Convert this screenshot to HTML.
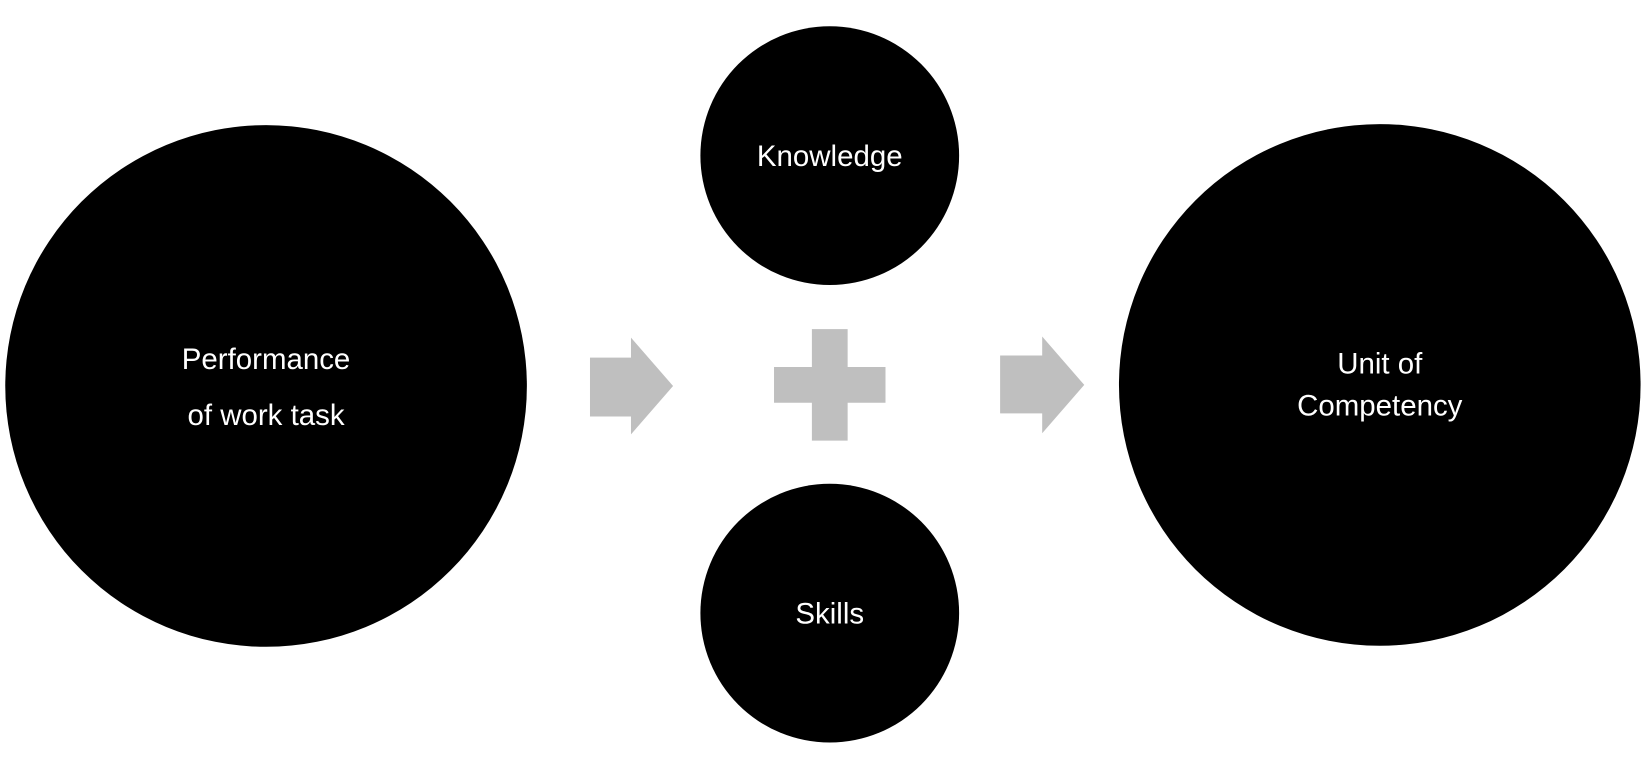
<!DOCTYPE html>
<html><head><style>html,body{margin:0;padding:0;background:#fff;}svg{display:block}</style></head>
<body>
<svg width="1649" height="783" viewBox="0 0 1568 744.5" preserveAspectRatio="none" xmlns="http://www.w3.org/2000/svg">
<rect width="1568" height="744.5" fill="#fff"/>
<circle cx="253" cy="367" r="248" fill="#000"/>
<circle cx="789" cy="148" r="123" fill="#000"/>
<circle cx="789" cy="583" r="123" fill="#000"/>
<circle cx="1312" cy="366" r="248" fill="#000"/>
<polygon points="561,340 600,340 600,321 640,367 600,413 600,396 561,396" fill="#bfbfbf"/>
<polygon points="951,338 991,338 991,320 1031,366 991,412 991,393 951,393" fill="#bfbfbf"/>
<polygon points="772,313 806,313 806,349 842,349 842,383 806,383 806,419 772,419 772,383 736,383 736,349 772,349" fill="#bfbfbf"/>
<g fill="#fff" font-family="Liberation Sans, sans-serif" font-size="28" text-anchor="middle">
<text x="253" y="351">Performance</text>
<text x="253" y="404">of work task</text>
<text x="789" y="158">Knowledge</text>
<text x="789" y="593">Skills</text>
<text x="1312" y="355">Unit of</text>
<text x="1312" y="395">Competency</text>
</g>
</svg>
</body></html>
